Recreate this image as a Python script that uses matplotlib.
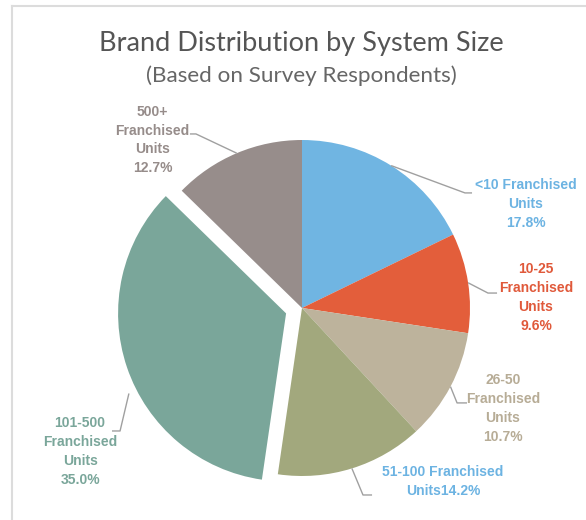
import numpy as np
import matplotlib.pyplot as plt
from matplotlib.lines import Line2D

# survey shares by system size (percent), clockwise from 12 o'clock
sizes = ["<10", "10-25", "26-50", "51-100", "101-500", "500+"]
shares = [17.8, 9.6, 10.7, 14.2, 35.0, 12.7]
label_texts = [
    "<10 Franchised\nUnits\n17.8%",
    "10-25\nFranchised\nUnits\n9.6%",
    "26-50\nFranchised\nUnits\n10.7%",
    "51-100 Franchised\nUnits14.2%",
    "101-500\nFranchised\nUnits\n35.0%",
    "500+\nFranchised\nUnits\n12.7%",
]
slice_colors = ["#70b5e2", "#e35e3b", "#bdb39c", "#a2a87d", "#7aa69a", "#978d8b"]
text_colors = ["#6cb3e2", "#e0593a", "#b7ac96", "#6cb3e2", "#7aa69a", "#968c8a"]
explode = [0, 0, 0, 0, 0.1, 0]

# label placement (pie units) and leader line elbows
label_pos = [(1.333, 0.619), (1.393, 0.065), (1.196, -0.598),
             (0.839, -1.033), (-1.321, -0.854), (-0.890, 1.0)]
elbows = [[(0.970, 0.685), (1.012, 0.685)],
          [(1.107, 0.089), (1.161, 0.089)],
          [(0.923, -0.565), (0.982, -0.565)],
          [(0.363, -1.113), (0.417, -1.113)],
          [(-1.083, -0.732), (-1.131, -0.732)],
          [(-0.631, 1.036), (-0.667, 1.036)]]
start_angle = [None, None, None, None, -153.0, None]

W, H = 586, 520
cx, cy, R = 302, 308, 168

fig = plt.figure(figsize=(W / 100, H / 100), dpi=100)
ax = fig.add_axes([0, 0, 1, 1])
wedges, _ = ax.pie(shares, colors=slice_colors, explode=explode, startangle=90,
                   counterclock=False, radius=1.0,
                   wedgeprops=dict(linewidth=0))
ax.set_xlim(-cx / R, (W - cx) / R)
ax.set_ylim(-(H - cy) / R, cy / R)
ax.set_aspect("auto")
ax.axis("off")

lab_font = ["Liberation Sans", "DejaVu Sans"]
for i, w in enumerate(wedges):
    ang = start_angle[i] if start_angle[i] is not None else (w.theta1 + w.theta2) / 2
    r = w.r * (1.05 if start_angle[i] is not None else 1.0)
    x0 = w.center[0] + r * np.cos(np.radians(ang))
    y0 = w.center[1] + r * np.sin(np.radians(ang))
    xs = [x0] + [p[0] for p in elbows[i]]
    ys = [y0] + [p[1] for p in elbows[i]]
    ax.plot(xs, ys, color="#a0a0a0", lw=1.0, solid_capstyle="butt")
    ax.text(label_pos[i][0], label_pos[i][1], label_texts[i], ha="center", va="center",
            color=text_colors[i], fontsize=10, fontweight="bold", family=lab_font,
            linespacing=1.45)

fig.text(0.515, 1 - 44 / H, "Brand Distribution by System Size", ha="center", va="center",
         fontsize=19.5, color="#555555", family="Lato")
fig.text(0.515, 1 - 76 / H, "(Based on Survey Respondents)", ha="center", va="center",
         fontsize=16.2, color="#666666", family="Lato")

# light frame along top and left edges
fig.add_artist(Line2D([12 / W, 1], [1 - 6 / H, 1 - 6 / H], color="#dcdcdc", lw=1.5))
fig.add_artist(Line2D([12 / W, 12 / W], [0, 1 - 6 / H], color="#dcdcdc", lw=1.5))

fig.savefig("out.png", dpi=100)
